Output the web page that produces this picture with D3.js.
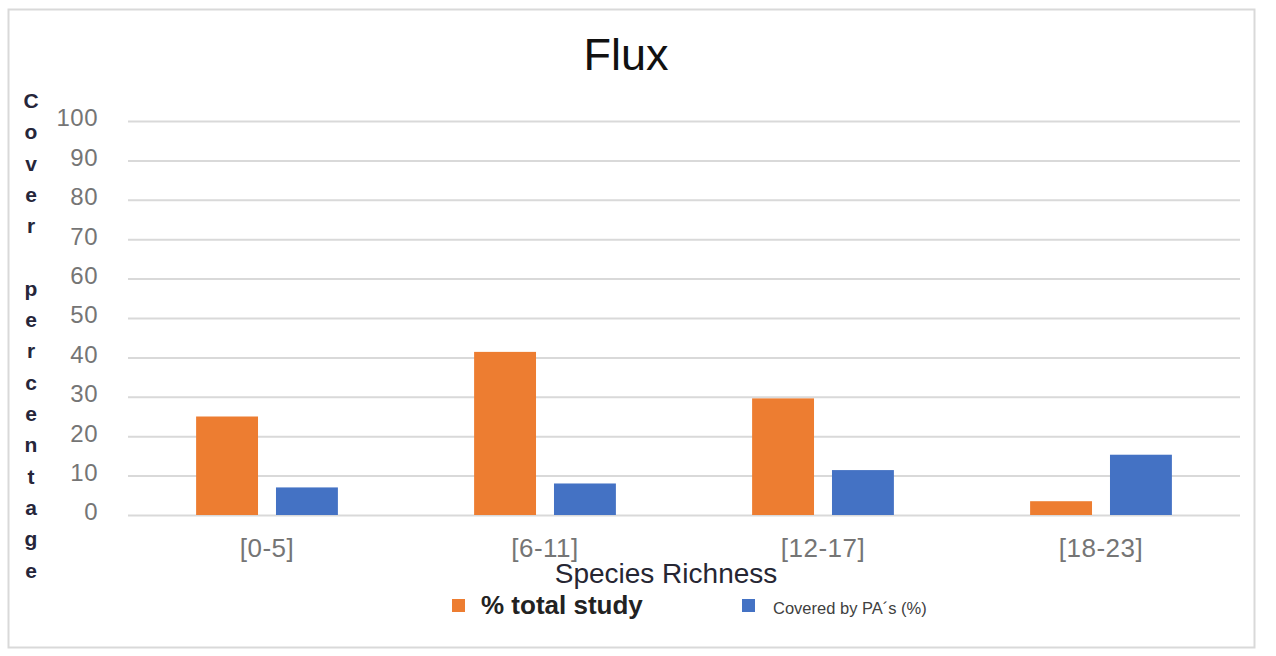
<!DOCTYPE html>
<html>
<head>
<meta charset="utf-8">
<script src="https://cdn.jsdelivr.net/npm/d3@7"></script>
<style>
  html, body { margin: 0; padding: 0; background: #fff; }
  svg { display: block; font-family: "Liberation Sans", Arial, sans-serif; }
</style>
</head>
<body>
<svg id="chart" width="1276" height="656"></svg>
<script>
// Species richness classes and the two series shown per class
const categories = ["[0-5]", "[6-11]", "[12-17]", "[18-23]"];
const seriesNames = ["% total study", "Covered by PA´s (%)"];
const totalStudy = [25, 41.4, 29.6, 3.5];
const coveredByPA = [7, 8, 11.4, 15.3];
const yTicks = [0, 10, 20, 30, 40, 50, 60, 70, 80, 90, 100];
const seriesColors = ["#ED7D31", "#4472C4"];

const titleText = "Flux";
const xTitle = "Species Richness";
const yTitle = "Cover percentage";

const svg = d3.select("#chart");

// frame around the chart area
svg.append("rect")
  .attr("x", 8.5).attr("y", 9.5)
  .attr("width", 1246).attr("height", 638)
  .attr("fill", "#fff")
  .attr("stroke", "#d9d9d9").attr("stroke-width", 2);

const plot = { left: 128, right: 1240, top: 121, bottom: 515 };

const x0 = d3.scaleBand()
  .domain(categories)
  .range([plot.left, plot.right])
  .paddingInner(0.49)
  .paddingOuter(0.245);

const x1 = d3.scaleBand()
  .domain(seriesNames)
  .range([0, x0.bandwidth()])
  .paddingInner(0.225);

const y = d3.scaleLinear().domain([0, 100]).range([plot.bottom, plot.top]);

// horizontal gridlines + value labels
const yAxis = svg.append("g")
  .attr("transform", `translate(${plot.left},0)`)
  .call(d3.axisLeft(y).tickValues(yTicks).tickSize(-(plot.right - plot.left)).tickPadding(30).tickFormat(d3.format("d")));
yAxis.select(".domain").remove();
yAxis.selectAll(".tick line").attr("stroke", "#d9d9d9").attr("stroke-width", 2);
yAxis.selectAll(".tick text")
  .attr("fill", "#757575")
  .attr("font-size", 24)
  .attr("letter-spacing", 0.5)
  .attr("dy", "0.2em");

// category labels along the bottom
const xAxis = svg.append("g")
  .attr("transform", `translate(0,${plot.bottom})`)
  .call(d3.axisBottom(x0).tickSize(0).tickPadding(24));
xAxis.select(".domain").remove();
xAxis.selectAll(".tick text")
  .attr("fill", "#757575")
  .attr("font-size", 26)
  .attr("letter-spacing", 0.5);

// grouped bars
const rows = categories.map((c, i) => ({ cat: c, values: [totalStudy[i], coveredByPA[i]] }));
const groups = svg.append("g").selectAll("g")
  .data(rows)
  .join("g")
  .attr("transform", d => `translate(${x0(d.cat)},0)`);
groups.selectAll("rect")
  .data(d => d.values.map((v, k) => ({ key: seriesNames[k], value: v, k })))
  .join("rect")
  .attr("x", d => x1(d.key))
  .attr("width", x1.bandwidth())
  .attr("y", d => y(d.value))
  .attr("height", d => y(0) - y(d.value))
  .attr("fill", d => seriesColors[d.k]);

// chart title
svg.append("text")
  .attr("x", 626).attr("y", 70)
  .attr("text-anchor", "middle")
  .attr("font-size", 45)
  .attr("fill", "#111")
  .text(titleText);

// x-axis title
svg.append("text")
  .attr("x", 666).attr("y", 583)
  .attr("text-anchor", "middle")
  .attr("font-size", 28)
  .attr("fill", "#262633")
  .text(xTitle);

// y-axis title, one letter per line
svg.append("g").selectAll("text")
  .data(yTitle.split(""))
  .join("text")
  .attr("x", 31)
  .attr("y", (d, i) => 108 + i * 31.3)
  .attr("text-anchor", "middle")
  .attr("font-size", 21)
  .attr("font-weight", "bold")
  .attr("fill", "#26263a")
  .text(d => d);

// legend
const legend = [
  { name: seriesNames[0], color: seriesColors[0], sx: 452, tx: 481, size: 26, weight: "bold", fill: "#222" },
  { name: seriesNames[1], color: seriesColors[1], sx: 742, tx: 773, size: 16.5, weight: "normal", fill: "#404040" }
];
const lg = svg.append("g");
lg.selectAll("rect")
  .data(legend)
  .join("rect")
  .attr("x", d => d.sx).attr("y", 599)
  .attr("width", 13).attr("height", 13)
  .attr("fill", d => d.color);
lg.selectAll("text")
  .data(legend)
  .join("text")
  .attr("x", d => d.tx).attr("y", 614)
  .attr("font-size", d => d.size)
  .attr("font-weight", d => d.weight)
  .attr("fill", d => d.fill)
  .text(d => d.name);
</script>
</body>
</html>
